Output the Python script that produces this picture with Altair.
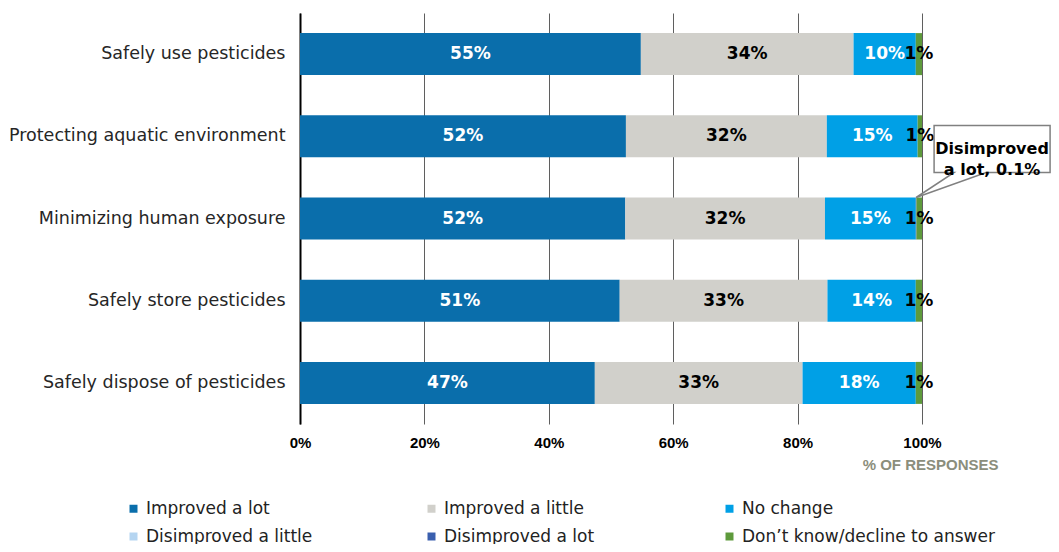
import altair as alt
import pandas as pd

categories = [
    "Safely use pesticides",
    "Protecting aquatic environment",
    "Minimizing human exposure",
    "Safely store pesticides",
    "Safely dispose of pesticides",
]
series = [
    "Improved a lot",
    "Improved a little",
    "No change",
    "Disimproved a little",
    "Disimproved a lot",
    "Don\u2019t know/decline to answer",
]
improved_lot = [54.8, 52.4, 52.3, 51.4, 47.4]
improved_little = [34.2, 32.3, 32.1, 33.4, 33.4]
no_change = [10.0, 14.6, 14.6, 14.2, 18.2]
disimproved_little = [0.0, 0.0, 0.0, 0.0, 0.0]
disimproved_lot = [0.0, 0.0, 0.1, 0.0, 0.0]
dont_know = [1.0, 0.7, 0.9, 1.0, 1.0]

colors = ["#0a6eab", "#d1d0cb", "#00a0e6", "#b5d5f1", "#3a5fae", "#5e9a3c"]

values = [improved_lot, improved_little, no_change, disimproved_little, disimproved_lot, dont_know]
rows = []
for si, (s, vals) in enumerate(zip(series, values)):
    for ti, t in enumerate(categories):
        rows.append({"task": t, "series": s, "value": vals[ti], "order": si})
df = pd.DataFrame(rows)

# callout anchored on the "Disimproved a lot" segment of "Minimizing human exposure"
ci = 2
anchor_x = improved_lot[ci] + improved_little[ci] + no_change[ci] + disimproved_little[ci] + disimproved_lot[ci] / 2
anno = pd.DataFrame([{
    "task": categories[ci],
    "x": anchor_x,
    "t": "Disimproved\na lot, " + f"{disimproved_lot[ci]:.1f}%",
}])

x_axis = alt.Axis(
    values=[0, 20, 40, 60, 80, 100],
    labelExpr="datum.value + '%'",
    labelFlush=False,
    grid=True, gridColor="#5f5f5f", gridWidth=1,
    ticks=False,
    domain=False,
    labelFont="Liberation Sans", labelFontWeight="bold", labelFontSize=15,
    labelColor="#000000", labelPadding=11,
    title="% OF RESPONSES", titleFont="Liberation Sans", titleFontWeight="bold",
    titleFontSize=15, titleColor="#8b8e7c", titleX=698, titleY=40,
    titleAlign="right", titleBaseline="middle",
)
x_scale = alt.Scale(domain=[0, 100], nice=False)
y_enc = alt.Y(
    "task:N", sort=categories,
    axis=alt.Axis(
        title=None, ticks=False, domainColor="#000000", domainWidth=2,
        labelFont="DejaVu Sans", labelFontSize=17.5, labelColor="#262626",
        labelPadding=15, labelLimit=400,
    ),
)

base = alt.Chart(df).transform_stack(
    stack="value", groupby=["task"], sort=[alt.SortField("order")], as_=["x0", "x1"]
).transform_calculate(mid="(datum.x0 + datum.x1) / 2")

bars = base.mark_bar(height=42).encode(
    y=y_enc,
    x=alt.X("x0:Q", scale=x_scale, axis=x_axis),
    x2="x1:Q",
    color=alt.Color(
        "series:N",
        scale=alt.Scale(domain=series, range=colors),
        legend=alt.Legend(
            orient="none", legendX=-175, legendY=487, direction="horizontal",
            columns=3, title=None, symbolType="square", symbolSize=64,
            symbolStrokeWidth=0, labelFont="DejaVu Sans", labelFontSize=17,
            labelColor="#222222", labelOffset=4, columnPadding=24, rowPadding=10,
            gridAlign="all", labelLimit=400, padding=0,
        ),
    ),
)

labels = base.transform_filter("datum.value >= 0.5").transform_calculate(
    lbl="format(datum.value, '.0f') + '%'"
).mark_text(font="DejaVu Sans", fontWeight="bold", fontSize=17, baseline="middle").encode(
    y=y_enc,
    x=alt.X("mid:Q", scale=x_scale, axis=x_axis),
    text="lbl:N",
    color=alt.condition(
        "datum.series == 'Improved a lot' || datum.series == 'No change'",
        alt.value("#ffffff"), alt.value("#000000"),
    ),
)

bubble_path = (
    "M0.12,-0.48 L0.8933,-0.48 L0.8933,-0.1667 L0.4667,-0.1667 "
    "L0,0 L0.2533,-0.1667 L0.12,-0.1667 Z"
)
bubble = alt.Chart(anno).mark_point(
    shape=bubble_path, size=90000, filled=True, fill="#ffffff",
    stroke="#808080", strokeWidth=1.5, opacity=1, fillOpacity=1, strokeOpacity=1,
    yOffset=-21,
).encode(
    y=y_enc,
    x=alt.X("x:Q", scale=x_scale, axis=x_axis),
)

bubble_text = alt.Chart(anno).mark_text(
    font="DejaVu Sans", fontWeight="bold", fontSize=16, lineBreak="\n",
    lineHeight=21, align="center", baseline="middle", dx=76, dy=-70, color="#000000",
).encode(
    y=y_enc,
    x=alt.X("x:Q", scale=x_scale, axis=x_axis),
    text="t:N",
)

chart = alt.layer(bars, labels, bubble, bubble_text).properties(
    width=622, height=411,
    autosize=alt.AutoSizeParams(type="none"),
    padding={"left": 292, "top": 5, "right": 129, "bottom": 120},
).configure_view(strokeWidth=0)

chart.save("out.html", embed_options={"renderer": "svg", "actions": False})
